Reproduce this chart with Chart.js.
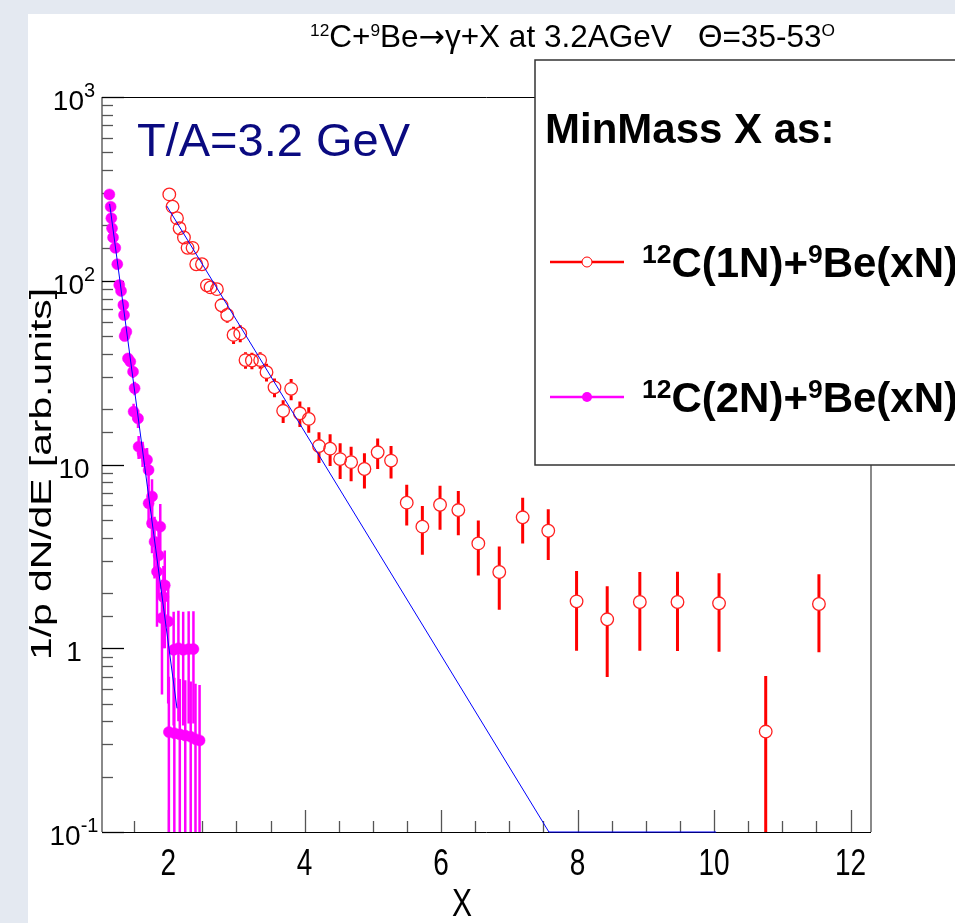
<!DOCTYPE html>
<html>
<head>
<meta charset="utf-8">
<script src="https://cdn.jsdelivr.net/npm/chart.js@4.4.1/dist/chart.umd.min.js"></script>
<style>
  html, body { margin: 0; padding: 0; background: #fff; overflow: hidden; }
  canvas { display: block; }
</style>
</head>
<body>
<canvas id="spectrum" width="955" height="923"></canvas>
<script>
// 12C(1N)+9Be(xN) points
const oneNX = [2.016, 2.064, 2.129, 2.167, 2.231, 2.284, 2.357, 2.411, 2.495, 2.568, 2.621, 2.714,
    2.782, 2.865, 2.958, 3.056, 3.133, 3.227, 3.348, 3.441, 3.558, 3.685, 3.802, 3.930, 4.060,
    4.210, 4.373, 4.520, 4.681, 4.876, 5.070, 5.266, 5.496, 5.725, 5.984, 6.252, 6.545, 6.852,
    7.195, 7.570, 7.985, 8.434, 8.912, 9.464, 10.073, 10.757, 11.537];
const oneNY = [295, 253, 219, 193, 172, 151, 151, 123, 123, 94.4, 92, 90,
    73.5, 65.1, 50.7, 51.7, 37, 36.8, 37, 31.8, 26.3, 19.6, 25.8, 19.0, 17.7,
    12.6, 12.2, 10.7, 10.3, 9.45, 11.65, 10.5, 6.2, 4.59, 6.04, 5.65, 3.72, 2.6,
    5.16, 4.36, 1.80, 1.437, 1.785, 1.785, 1.756, 0.352, 1.741];
const oneNErr = [11, 10, 9, 8.5, 8, 7.5, 7.5, 7, 7, 6.5, 6.5, 6.5,
    6.5, 6, 5.5, 5.5, 3.8, 3.8, 3.8, 3.5, 3.1, 2.8, 3.4, 3.0, 2.8,
    2.4, 2.4, 2.35, 2.2, 2.05, 2.2, 2.1, 1.55, 1.36, 1.63, 1.53, 1.23, 0.98,
    1.44, 1.34, 0.83, 0.74, 0.815, 0.82, 0.80, 0.355, 0.79];

// 12C(2N)+9Be(xN) points
const twoNX = [1.138, 1.157, 1.167, 1.177, 1.192, 1.225, 1.254, 1.283, 1.309, 1.343, 1.353, 1.362,
    1.387, 1.411, 1.445, 1.485, 1.508, 1.493, 1.558, 1.567, 1.625, 1.690, 1.713, 1.763, 1.713,
    1.763, 1.884, 1.80, 1.86, 1.836, 1.909, 1.93, 1.95, 2.00, 2.08, 2.15, 2.22, 2.30, 2.37,
    2.01, 2.09, 2.17, 2.25, 2.33, 2.40, 2.46];
const twoNY = [295, 253, 219, 193, 172, 151, 123, 94.8, 88, 73.8, 65.1, 50,
    52.8, 37.8, 36.3, 32, 26, 19.4, 17.8, 12.5, 11.5, 10.6, 9.33, 6.7, 6.15,
    4.79, 4.59, 3.8, 3.2, 2.61, 1.46, 1.9, 2.2, 1.4, 0.98, 1.0, 0.98, 0.99, 0.99,
    0.35, 0.345, 0.34, 0.335, 0.33, 0.32, 0.315];
const twoNErr = [6, 5.5, 5, 4.8, 4.5, 4.2, 4, 3.5, 3.4, 3.2, 3, 2.8,
    2.9, 2.5, 2.5, 2.4, 2.2, 2.0, 2.0, 1.8, 1.8, 1.7, 1.7, 1.6, 1.6,
    1.5, 1.5, 1.4, 1.3, 1.3, 0.9, 0.9, 1.2, 0.9, 0.6, 0.6, 0.6, 0.6, 0.6,
    0.35, 0.345, 0.34, 0.335, 0.33, 0.32, 0.315];

// exponential fits (straight on the log axis), end points
const fitOneX = [1.98, 7.58, 10.03];
const fitOneY = [255, 0.1, 0.1];
const fitTwoX = [1.142, 2.129];
const fitTwoY = [262, 0.471];

// axes
const xTickValues = [1.5, 2, 2.5, 3, 3.5, 4, 4.5, 5, 5.5, 6, 6.5, 7, 7.5, 8, 8.5, 9, 9.5, 10,
    10.5, 11, 11.5, 12];
const xLabelValues = [2, 4, 6, 8, 10, 12];
const yLabelValues = [0.1, 1, 10, 100, 1000];
const yLabelBase = ['10', '1', '10', '10', '10'];
const yLabelExp = ['-1', '', '', '2', '3'];

const FONT = '"Liberation Sans", Arial, Helvetica, sans-serif';

function toPoints(xs, ys) {
    return xs.map((x, i) => ({ x: x, y: ys[i] }));
}

// text with superscripts, parts = [{t, sup, font}]
function drawRich(ctx, parts, x, y, size, weight, supScale, rise) {
    let cx = x;
    parts.forEach(p => {
        const s = p.sup ? size * supScale : size;
        ctx.font = weight + ' ' + s + 'px ' + (p.font || FONT);
        ctx.fillText(p.t, cx, p.sup ? y - rise : y);
        cx += ctx.measureText(p.t).width;
    });
}

// text drawn a little taller than wide, like the original axis font
function drawStretched(ctx, text, x, y, size, sy, rotate) {
    ctx.save();
    ctx.translate(x, y);
    if (rotate) {
        ctx.rotate(-Math.PI / 2);
        ctx.scale(sy, 1);
    } else {
        ctx.scale(1, sy);
    }
    ctx.font = size + 'px ' + FONT;
    ctx.textAlign = 'center';
    ctx.textBaseline = 'middle';
    ctx.fillText(text, 0, 0);
    ctx.restore();
}

function drawErrors(chart, ds) {
    const { ctx, chartArea: a, scales: { x, y } } = chart;
    ctx.save();
    ctx.beginPath();
    ctx.rect(a.left, a.top, a.right - a.left, a.bottom - a.top);
    ctx.clip();
    ctx.strokeStyle = ds.errorColor;
    ctx.lineWidth = ds.errorWidth;
    ds.data.forEach((p, i) => {
        const e = ds.errors[i];
        const px = x.getPixelForValue(p.x);
        const py = y.getPixelForValue(p.y);
        const top = y.getPixelForValue(p.y + e);
        const lo = p.y - e;
        const bottom = lo > 0.001 ? y.getPixelForValue(lo) : a.bottom + 5;
        const gap = ds.errorGap;
        ctx.beginPath();
        if (py - gap > top) { ctx.moveTo(px, top); ctx.lineTo(px, py - gap); }
        if (bottom > py + gap) { ctx.moveTo(px, py + gap); ctx.lineTo(px, bottom); }
        ctx.stroke();
    });
    ctx.restore();
}

const rootStyle = {
    id: 'rootStyle',
    beforeDraw(chart) {
        const ctx = chart.ctx;
        ctx.save();
        ctx.fillStyle = '#e4e9f1';
        ctx.fillRect(0, 0, chart.width, chart.height);
        ctx.fillStyle = '#ffffff';
        ctx.fillRect(28, 14, chart.width - 28, chart.height - 14);
        ctx.restore();
    },
    beforeDatasetsDraw(chart) {
        const { ctx, chartArea: a, scales: { x, y } } = chart;
        ctx.save();
        // frame
        ctx.lineWidth = 1;
        ctx.strokeStyle = '#000';
        ctx.beginPath();
        ctx.moveTo(a.left, a.top + 0.5); ctx.lineTo(a.right, a.top + 0.5);
        ctx.moveTo(a.left, a.bottom + 0.5); ctx.lineTo(a.right, a.bottom + 0.5);
        ctx.stroke();
        ctx.lineWidth = 2;
        ctx.strokeStyle = '#8a8a8a';
        ctx.beginPath();
        ctx.moveTo(a.left, a.top); ctx.lineTo(a.left, a.bottom);
        ctx.moveTo(a.right, a.top); ctx.lineTo(a.right, a.bottom);
        ctx.stroke();

        // ticks inside the frame
        ctx.lineWidth = 1.3;
        y.ticks.forEach(t => {
            const lg = Math.log10(t.value);
            const major = Math.abs(lg - Math.round(lg)) < 1e-6;
            const py = Math.round(y.getPixelForValue(t.value)) + 0.5;
            ctx.strokeStyle = major ? '#000' : '#555';
            ctx.beginPath();
            ctx.moveTo(a.left, py);
            ctx.lineTo(a.left + (major ? 22 : 11), py);
            ctx.stroke();
        });
        x.ticks.forEach(t => {
            const major = xLabelValues.includes(t.value);
            const px = Math.round(x.getPixelForValue(t.value)) + 0.5;
            ctx.strokeStyle = '#555';
            ctx.beginPath();
            ctx.moveTo(px, a.bottom);
            ctx.lineTo(px, a.bottom - (major ? 22 : 11));
            ctx.stroke();
        });

        ctx.fillStyle = '#000';
        // x labels
        xLabelValues.forEach(v => {
            drawStretched(ctx, String(v), x.getPixelForValue(v), 865, 28, 1.3, false);
        });
        // axis titles
        drawStretched(ctx, 'X', 462, 905, 30, 1.3, false);
        drawStretched(ctx, '1/p dN/dE [arb.units]', 43, 474, 30, 1.36, true);

        // log axis labels with superscripts
        ctx.textBaseline = 'alphabetic';
        yLabelValues.forEach((v, i) => {
            const py = y.getPixelForValue(v);
            ctx.font = '28px ' + FONT;
            const wb = ctx.measureText(yLabelBase[i]).width;
            ctx.font = '20px ' + FONT;
            const we = yLabelExp[i] ? ctx.measureText(yLabelExp[i]).width : 0;
            const left = 74 - (wb + we) / 2;
            ctx.font = '28px ' + FONT;
            ctx.fillText(yLabelBase[i], left, py + 13);
            if (yLabelExp[i]) {
                ctx.font = '20px ' + FONT;
                ctx.fillText(yLabelExp[i], left + wb, py);
            }
        });
        ctx.restore();
    },
    beforeDatasetDraw(chart, args) {
        const ds = chart.data.datasets[args.index];
        if (ds.errors) drawErrors(chart, ds);
    },
    afterDraw(chart) {
        const ctx = chart.ctx;
        ctx.save();
        ctx.textBaseline = 'alphabetic';
        ctx.fillStyle = '#000';

        // header
        drawRich(ctx, [
            { t: '12', sup: true }, { t: 'C+' }, { t: '9', sup: true }, { t: 'Be' },
            { t: '\u2192', font: '"DejaVu Sans", sans-serif' },
            { t: '\u03b3+X at 3.2AGeV   \u0398=35-53' }, { t: 'O', sup: true }
        ], 310, 47, 31.5, 'normal', 0.55, 11);

        // energy label
        ctx.fillStyle = '#0a0a80';
        ctx.font = '47px ' + FONT;
        ctx.fillText('T/A=3.2 GeV', 137, 156);

        // legend box
        ctx.fillStyle = '#fff';
        ctx.fillRect(535, 60, 430, 405);
        ctx.strokeStyle = '#333';
        ctx.lineWidth = 1.5;
        ctx.strokeRect(535, 60, 430, 405);

        ctx.fillStyle = '#000';
        ctx.font = 'bold 42px ' + FONT;
        ctx.fillText('MinMass X as:', 545, 143);

        const entries = [
            { color: '#ff0000', filled: false, y: 262, n: '1N' },
            { color: '#ff00ff', filled: true, y: 397, n: '2N' }
        ];
        entries.forEach(e => {
            ctx.strokeStyle = e.color;
            ctx.lineWidth = 2.5;
            ctx.beginPath();
            ctx.moveTo(550, e.y); ctx.lineTo(624, e.y);
            ctx.stroke();
            ctx.beginPath();
            ctx.arc(587, e.y, 5, 0, Math.PI * 2);
            if (e.filled) {
                ctx.fillStyle = e.color;
                ctx.fill();
            } else {
                ctx.fillStyle = '#fff';
                ctx.fill();
                ctx.lineWidth = 1;
                ctx.stroke();
            }
            ctx.fillStyle = '#000';
            drawRich(ctx, [
                { t: '12', sup: true }, { t: 'C(' + e.n + ')+' }, { t: '9', sup: true }, { t: 'Be(xN)' }
            ], 642, e.y + 15, 42, 'bold', 0.63, 14);
        });
        ctx.restore();
    }
};

const ctx = document.getElementById('spectrum').getContext('2d');
new Chart(ctx, {
    type: 'scatter',
    data: {
        datasets: [
            {
                label: 'fit 1N',
                data: toPoints(fitOneX, fitOneY),
                showLine: true,
                borderColor: '#0000ff',
                borderWidth: 1,
                pointRadius: 0,
                clip: false
            },
            {
                label: 'fit 2N',
                data: toPoints(fitTwoX, fitTwoY),
                showLine: true,
                borderColor: '#0000ff',
                borderWidth: 1,
                pointRadius: 0
            },
            {
                label: '12C(1N)+9Be(xN)',
                data: toPoints(oneNX, oneNY),
                errors: oneNErr,
                errorColor: '#ff0000',
                errorWidth: 3,
                errorGap: 6.3,
                pointStyle: 'circle',
                pointRadius: 6.3,
                pointBorderWidth: 1.3,
                pointBorderColor: '#ff2020',
                pointBackgroundColor: 'rgba(0,0,0,0)'
            },
            {
                label: '12C(2N)+9Be(xN)',
                data: toPoints(twoNX, twoNY),
                errors: twoNErr,
                errorColor: '#ff00ff',
                errorWidth: 2.5,
                errorGap: 0,
                pointStyle: 'circle',
                pointRadius: 5.5,
                pointBorderWidth: 0.5,
                pointBorderColor: '#ff00ff',
                pointBackgroundColor: '#ff00ff'
            }
        ]
    },
    options: {
        responsive: false,
        animation: false,
        events: [],
        layout: { padding: { left: 20, right: 84, top: 97, bottom: 0 } },
        plugins: {
            legend: { display: false },
            tooltip: { enabled: false },
            title: { display: false }
        },
        scales: {
            x: {
                type: 'linear',
                min: 1.03,
                max: 12.3,
                afterBuildTicks: scale => {
                    scale.ticks = xTickValues.map(v => ({ value: v }));
                },
                afterFit: scale => { scale.height = 91; },
                grid: { display: false, drawTicks: false },
                border: { display: false },
                ticks: { display: false, autoSkip: false }
            },
            y: {
                type: 'logarithmic',
                min: 0.1,
                max: 1000,
                afterFit: scale => { scale.width = 82; },
                grid: { display: false, drawTicks: false },
                border: { display: false },
                ticks: { display: false, autoSkip: false }
            }
        }
    },
    plugins: [rootStyle]
});
</script>
</body>
</html>
